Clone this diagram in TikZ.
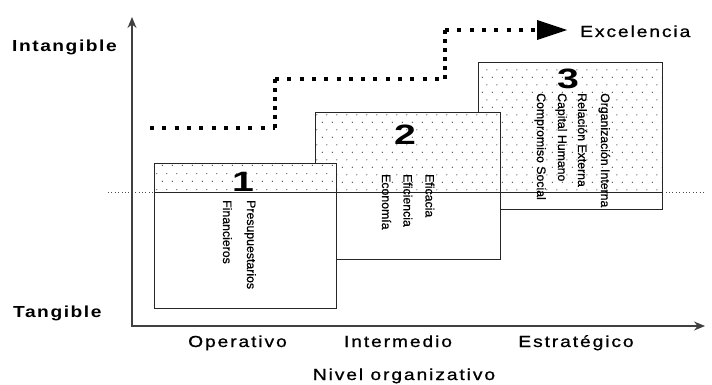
\documentclass[tikz,border=0pt]{standalone}
\usepackage{fontspec}
\usepackage{graphicx}
\setmainfont{Liberation Sans}
\newfontfamily\spacedfont[LetterSpace=10,FakeBold=0.8]{Liberation Sans}
\newfontfamily\spacedboldfont[LetterSpace=8]{Liberation Sans}
\newfontfamily\entryfont[FakeBold=0.6]{Liberation Sans}
\usetikzlibrary{arrows.meta,patterns}

% labels along the axes are set slightly widened
\newcommand\stretchx[1]{\scalebox{1.2}[1]{#1}}

% sparse staggered dots for the upper (intangible) part of each level
\pgfdeclarepatternformonly{boxdots}{\pgfqpoint{0pt}{0pt}}{\pgfqpoint{10pt}{15.4pt}}{\pgfqpoint{10pt}{15.4pt}}{%
  \pgfpathcircle{\pgfqpoint{2.5pt}{3.85pt}}{0.6pt}%
  \pgfpathcircle{\pgfqpoint{7.5pt}{11.55pt}}{0.6pt}%
  \pgfusepath{fill}}

\begin{document}
\begin{tikzpicture}[x=1pt,y=-1pt,
  panel/.style={draw=black!85, line width=1pt, fill=white, rectangle,
    inner sep=0pt, outer sep=0pt, anchor=north west},
  dotfill/.style={pattern=boxdots, pattern color=black!85},
  divider/.style={draw=black!85, line width=1pt},
  guide/.style={draw=black!70, line width=0.8pt, dash pattern=on 0.8pt off 2.6pt},
  entry/.style={rotate=-90, anchor=base west, inner sep=0pt,
    font=\entryfont\fontsize{12.3}{14}\selectfont},
  digit/.style={inner sep=0pt, font=\fontsize{28}{30}\selectfont\bfseries},
  axislabel/.style={inner sep=0pt, font=\spacedfont\fontsize{16}{19}\selectfont},
  endlabel/.style={inner sep=0pt, font=\spacedboldfont\fontsize{16}{19}\selectfont\bfseries},
  axis/.style={draw=black!75, line width=1.2pt},
  hdots/.style={draw=black, line width=4pt, dash pattern=on 4pt off 8.3pt},
  vdots/.style={draw=black, line width=4pt, dash pattern=on 4pt off 5pt},
]
\useasboundingbox (0,0) rectangle (712,385);

% level of the tangible / intangible boundary
\coordinate (lvl) at (0,192);
\coordinate (gl) at (108,192);
\coordinate (gr) at (705,192);
\draw[guide] (gl) -- (gr);

% level 3 (back)
\node[panel, minimum width=184pt, minimum height=146pt] (box3) at (478,63) {};
\fill[dotfill] (box3.north west) rectangle (box3.east |- lvl);
\draw[divider] (box3.west |- lvl) -- (box3.east |- lvl);

% level 2
\node[panel, minimum width=185pt, minimum height=146pt] (box2) at (315,113) {};
\fill[dotfill] (box2.north west) rectangle (box2.east |- lvl);
\draw[divider] (box2.west |- lvl) -- (box2.east |- lvl);

% level 1 (front)
\node[panel, minimum width=182pt, minimum height=145pt] (box1) at (154,163) {};
\fill[dotfill] (box1.north west) rectangle (box1.east |- lvl);
\draw[divider] (box1.west |- lvl) -- (box1.east |- lvl);

% level numbers
\node[digit] (n1) at (243,182) {\scalebox{1.4}[1]{1}};
\node[digit] (n2) at (405,135) {\scalebox{1.4}[1]{2}};
\node[digit] (n3) at (568,79) {\scalebox{1.4}[1]{3}};

% contents of each level
\node[entry] (t1a) at (247,200) {Presupuestarios};
\node[entry] (t1b) at (223,200) {Financieros};

\node[entry] (t2a) at (425.5,174) {Eficacia};
\node[entry] (t2b) at (403.5,174) {Eficiencia};
\node[entry] (t2c) at (382,174) {Economía};

\node[entry] (t3a) at (601,93) {Organización Interna};
\node[entry] (t3b) at (578,93) {Relación Externa};
\node[entry] (t3c) at (558,93) {Capital Humano};
\node[entry] (t3d) at (537,93) {Compromiso Social};

% axes
\coordinate (O) at (132,326);
\coordinate (ytip) at (132,17);
\coordinate (xtip) at (705,326);
\draw[axis, {Stealth[length=11pt,width=9pt]}-{Stealth[length=11pt,width=9pt]}] (ytip) -- (O) -- (xtip);

\node[endlabel, anchor=base west] (intang) at (12,52) {\stretchx{Intangible}};
\node[endlabel, anchor=base west] (tang) at (13,317) {\stretchx{Tangible}};

\node[axislabel, anchor=base] (op) at (237.5,347) {\stretchx{Operativo}};
\node[axislabel, anchor=base] (in) at (398,347) {\stretchx{Intermedio}};
\node[axislabel, anchor=base] (es) at (576,347) {\stretchx{Estratégico}};
\node[axislabel, anchor=base] (nivel) at (404,380) {\stretchx{Nivel organizativo}};

% stepped path towards excellence
\coordinate (s0) at (150,128);
\coordinate (s1) at (275,128);
\coordinate (s2) at (275,79);
\coordinate (s3) at (445,79);
\coordinate (s4) at (445,30);
\coordinate (s5) at (567,30);
\draw[hdots] (s0) -- (s1);
\draw[vdots] (s1) -- (s2);
\draw[hdots] (s2) -- (s3);
\draw[vdots] (s3) -- (s4);
\draw[hdots, -{Triangle[length=30pt,width=20pt,line width=0pt]}] (s4) -- (s5);
\node[axislabel, anchor=base west] (exc) at (580,37) {\stretchx{Excelencia}};
\end{tikzpicture}
\end{document}
